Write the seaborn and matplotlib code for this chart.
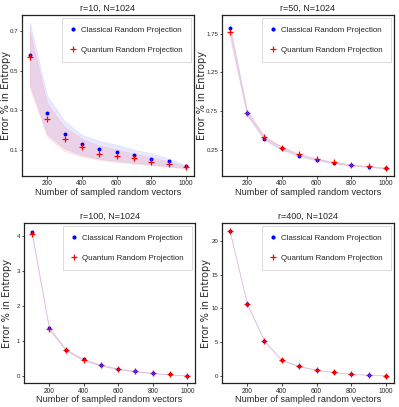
import matplotlib
matplotlib.use("Agg")
import matplotlib.pyplot as plt
import seaborn as sns
import numpy as np
import pandas as pd
from matplotlib.lines import Line2D

sns.set_style("white")
plt.rcParams['font.family'] = ['Liberation Sans', 'DejaVu Sans']

vectors = [100, 200, 300, 400, 500, 600, 700, 800, 900, 1000]
xticks = [200, 400, 600, 800, 1000]

titles = ["r=10, N=1024", "r=50, N=1024", "r=100, N=1024", "r=400, N=1024"]
yticks_list = [[0.1, 0.3, 0.5, 0.7], [0.25, 0.75, 1.25, 1.75], [0, 1, 2, 3, 4], [0, 5, 10, 15, 20]]
ytick_labels = [["0.1", "0.3", "0.5", "0.7"], ["0.25", "0.75", "1.25", "1.75"],
                ["0", "1", "2", "3", "4"], ["0", "5", "10", "15", "20"]]

# r=10
c10 = [0.58, 0.283, 0.18, 0.13, 0.105, 0.09, 0.072, 0.053, 0.042, 0.017]
c10_hi = [0.745, 0.375, 0.245, 0.175, 0.145, 0.125, 0.10, 0.08, 0.055, 0.02]
c10_lo = [0.43, 0.178, 0.105, 0.072, 0.053, 0.042, 0.033, 0.024, 0.015, 0.007]
q10 = [0.567, 0.255, 0.155, 0.113, 0.08, 0.068, 0.057, 0.038, 0.027, 0.012]
q10_hi = [0.70, 0.335, 0.215, 0.155, 0.12, 0.10, 0.08, 0.06, 0.04, 0.015]
q10_lo = [0.41, 0.165, 0.092, 0.065, 0.048, 0.037, 0.028, 0.02, 0.012, 0.004]

# r=50
c50 = [1.83, 0.73, 0.39, 0.27, 0.17, 0.12, 0.08, 0.05, 0.03, 0.012]
c50_hi = [1.90, 0.76, 0.415, 0.29, 0.185, 0.132, 0.09, 0.058, 0.036, 0.017]
c50_lo = [1.76, 0.70, 0.37, 0.25, 0.155, 0.108, 0.07, 0.042, 0.024, 0.006]
q50 = [1.78, 0.72, 0.41, 0.27, 0.19, 0.13, 0.085, 0.052, 0.032, 0.01]
q50_hi = [1.85, 0.75, 0.435, 0.29, 0.205, 0.142, 0.095, 0.06, 0.038, 0.015]
q50_lo = [1.71, 0.69, 0.385, 0.25, 0.175, 0.118, 0.075, 0.044, 0.026, 0.005]

# r=100
c100 = [4.12, 1.38, 0.73, 0.47, 0.31, 0.20, 0.13, 0.08, 0.04, 0.01]
c100_hi = [4.16, 1.41, 0.75, 0.49, 0.325, 0.212, 0.14, 0.088, 0.047, 0.015]
c100_lo = [4.08, 1.35, 0.71, 0.45, 0.295, 0.188, 0.12, 0.072, 0.033, 0.005]
q100 = [4.05, 1.33, 0.73, 0.46, 0.30, 0.20, 0.13, 0.08, 0.04, 0.01]
q100_hi = [4.09, 1.36, 0.75, 0.48, 0.315, 0.212, 0.14, 0.088, 0.047, 0.015]
q100_lo = [4.01, 1.30, 0.71, 0.44, 0.285, 0.188, 0.12, 0.072, 0.033, 0.005]

# r=400
c400 = [21.5, 10.7, 5.15, 2.36, 1.43, 0.89, 0.55, 0.30, 0.15, 0.03]
c400_hi = [21.6, 10.78, 5.21, 2.41, 1.47, 0.92, 0.58, 0.32, 0.17, 0.05]
c400_lo = [21.4, 10.62, 5.09, 2.31, 1.39, 0.86, 0.52, 0.28, 0.13, 0.01]
q400 = [21.45, 10.65, 5.1, 2.33, 1.40, 0.87, 0.54, 0.29, 0.14, 0.03]
q400_hi = [21.55, 10.73, 5.16, 2.38, 1.44, 0.90, 0.57, 0.31, 0.16, 0.05]
q400_lo = [21.35, 10.57, 5.04, 2.28, 1.36, 0.84, 0.51, 0.27, 0.12, 0.01]

panels = [
    (c10, c10_hi, c10_lo, q10, q10_hi, q10_lo),
    (c50, c50_hi, c50_lo, q50, q50_hi, q50_lo),
    (c100, c100_hi, c100_lo, q100, q100_hi, q100_lo),
    (c400, c400_hi, c400_lo, q400, q400_hi, q400_lo),
]

fig = plt.figure(figsize=(3.99, 4.07), dpi=100)
rects = [
    [0.055, 0.568, 0.431, 0.395],
    [0.556, 0.568, 0.431, 0.395],
    [0.060, 0.059, 0.429, 0.393],
    [0.556, 0.059, 0.431, 0.393],
]
ylabel_x = [-0.064, -0.087, -0.07, -0.064]

for i, (rect, data) in enumerate(zip(rects, panels)):
    ax = fig.add_axes(rect)
    c, chi, clo, q, qhi, qlo = data
    ax.fill_between(vectors, clo, chi, color="blue", alpha=0.09, linewidth=0.4)
    ax.fill_between(vectors, qlo, qhi, color="red", alpha=0.09, linewidth=0.4)
    df_c = pd.DataFrame({"x": vectors, "y": c})
    df_q = pd.DataFrame({"x": vectors, "y": q})
    sns.scatterplot(data=df_c, x="x", y="y", ax=ax, color="blue", marker="o",
                    s=8, linewidth=0, zorder=3)
    sns.scatterplot(data=df_q, x="x", y="y", ax=ax, color="red", marker="+",
                    s=18, linewidth=0.9, zorder=4)
    ax.set_title(titles[i], fontsize=6.5, pad=3)
    ax.set_xlabel("Number of sampled random vectors", fontsize=6.6, labelpad=0.5)
    ax.set_ylabel("Error % in Entropy", fontsize=7.0, family="DejaVu Sans")
    ax.yaxis.set_label_coords(ylabel_x[i], 0.5)
    ax.set_xticks(xticks)
    ax.set_xticklabels([str(t) for t in xticks])
    ax.set_yticks(yticks_list[i])
    ax.set_yticklabels(ytick_labels[i])
    ax.tick_params(axis="both", labelsize=4.4, length=1.8, width=0.6, pad=0.8,
                   bottom=True, left=True, direction="out")
    ax.tick_params(axis="x", pad=1.5, labelsize=4.8)
    for sp in ax.spines.values():
        sp.set_color("#222222")
        sp.set_linewidth(0.9)
    handles = [
        Line2D([], [], color="blue", marker="o", linestyle="none", markersize=3.0,
               markeredgewidth=0),
        Line2D([], [], color="red", marker="+", linestyle="none", markersize=5.0,
               markeredgewidth=0.9),
    ]
    leg = ax.legend(handles, ["Classical Random Projection", "Quantum Random Projection"],
                    loc="upper right", fontsize=5.7, labelspacing=1.55, handlelength=0.7,
                    handletextpad=0.6, borderpad=1.05, frameon=True, fancybox=False,
                    borderaxespad=0.4)
    leg.get_frame().set_edgecolor("#cccccc")
    leg.get_frame().set_linewidth(0.6)

fig.savefig("out.png", dpi=100)
